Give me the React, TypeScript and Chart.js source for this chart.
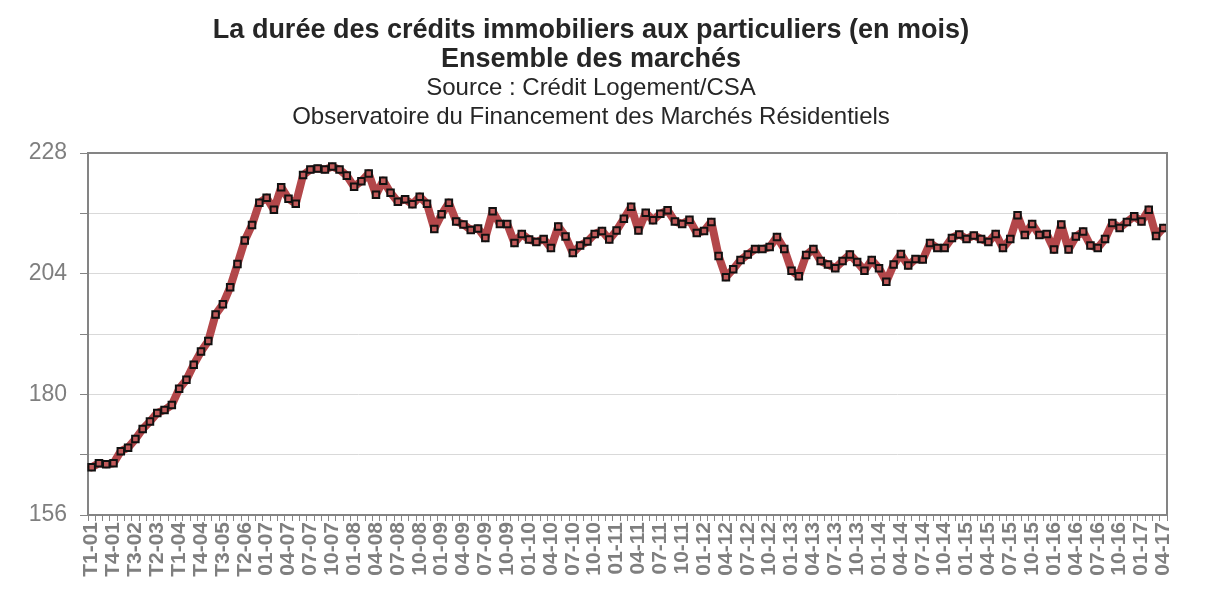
import React, { useEffect, useRef } from "react";
import { Chart, registerables } from "chart.js";

Chart.register(...registerables);

// Categories
const quarterYears = ["01", "02", "03", "04", "05", "06"];
const quarterNames = ["T1", "T2", "T3", "T4"];
const monthYears = ["07", "08", "09", "10", "11", "12", "13", "14", "15", "16", "17"];
const monthNames = ["01", "02", "03", "04", "05", "06", "07", "08", "09", "10", "11", "12"];
const lastMonthCount = 4; // data through 04-17

// Series values (durée moyenne en mois)
const quarterlyValues = [
  165.5, 166.3, 166.1, 166.3, 168.7, 169.4, 171.1, 173.1, 174.6, 176.3, 176.9, 177.9,
  181.1, 182.9, 185.9, 188.5, 190.6, 195.9, 197.9, 201.3, 205.9, 210.6, 213.7, 218.1,
];
const monthlyValues = [
  219.1, 216.7, 221.2, 218.9, 217.9, 223.6, 224.7, 224.9, 224.7, 225.3, 224.7, 223.5,
  221.3, 222.4, 223.9, 219.7, 222.5, 220.1, 218.3, 218.8, 217.8, 219.3, 217.9, 212.9,
  215.8, 218.1, 214.4, 213.8, 212.7, 213.0, 211.1, 216.4, 213.9, 213.9, 210.1, 211.9,
  210.8, 210.3, 210.9, 209.1, 213.4, 211.4, 208.1, 209.6, 210.4, 211.9, 212.5, 210.8,
  212.6, 214.9, 217.3, 212.6, 216.1, 214.6, 215.9, 216.6, 214.4, 213.9, 214.7, 212.1,
  212.5, 214.3, 207.5, 203.3, 204.9, 206.7, 207.8, 208.9, 208.9, 209.3, 211.3, 208.9,
  204.6, 203.5, 207.7, 208.9, 206.5, 205.8, 205.1, 206.5, 207.8, 206.3, 204.6, 206.7,
  205.1, 202.4, 205.8, 207.9, 205.6, 206.9, 206.8, 210.1, 209.1, 209.1, 211.1, 211.8,
  210.9, 211.6, 210.9, 210.3, 211.9, 209.1, 210.9, 215.6, 211.7, 213.9, 211.7, 211.9,
  208.8, 213.8, 208.8, 211.4, 212.4, 209.6, 209.1, 210.9, 214.1, 213.1, 214.3, 215.4,
  214.4, 216.7, 211.5, 213.1,
];

// Y ticks
const yMin = 156;
const yMax = 228;
const yStep = 12;
const yLabelled = [156, 180, 204, 228];

const titleLines = [
  "La durée des crédits immobiliers aux particuliers (en mois)",
  "Ensemble des marchés",
];
const subtitleLines = [
  "Source : Crédit Logement/CSA",
  "Observatoire du Financement des Marchés Résidentiels",
];

const labels: string[] = [];
quarterYears.forEach((y) => quarterNames.forEach((q) => labels.push(`${q}-${y}`)));
monthYears.forEach((y, yi) => {
  const n = yi === monthYears.length - 1 ? lastMonthCount : 12;
  for (let m = 0; m < n; m++) labels.push(`${monthNames[m]}-${y}`);
});
const values = [...quarterlyValues, ...monthlyValues];

const FONT = "'Liberation Sans', Arial, Helvetica, sans-serif";

const framePlugin = {
  id: "frame",
  afterDraw(chart: any) {
    const { ctx, chartArea } = chart;
    ctx.save();
    ctx.strokeStyle = "#848484";
    ctx.lineWidth = 2;
    ctx.beginPath();
    ctx.moveTo(chartArea.left, chartArea.top);
    ctx.lineTo(chartArea.right, chartArea.top);
    ctx.lineTo(chartArea.right, chartArea.bottom);
    ctx.stroke();
    ctx.restore();
  },
};

export default function App() {
  const ref = useRef<HTMLCanvasElement | null>(null);
  useEffect(() => {
    if (!ref.current) return;
    const chart = new Chart(ref.current, {
      type: "line",
      data: {
        labels,
        datasets: [
          {
            data: values,
            borderColor: "#b3474a",
            borderWidth: 8,
            borderJoinStyle: "round",
            borderCapStyle: "round",
            tension: 0,
            pointStyle: "rect",
            pointRadius: 4.6,
            pointBackgroundColor: "#c25a5a",
            pointBorderColor: "#111111",
            pointBorderWidth: 2,
          },
        ],
      },
      options: {
        animation: false,
        responsive: true,
        maintainAspectRatio: false,
        layout: { padding: { left: 15, right: 50, top: 0, bottom: 0 } },
        plugins: {
          legend: { display: false },
          tooltip: { enabled: false },
          title: {
            display: true,
            text: titleLines,
            color: "#262626",
            font: { family: FONT, size: 27, weight: "bold", lineHeight: 29 / 27 },
            padding: { top: 16, bottom: 0 },
          },
          subtitle: {
            display: true,
            text: subtitleLines,
            color: "#262626",
            font: { family: FONT, size: 24, weight: "normal", lineHeight: 29 / 24 },
            padding: { top: 0, bottom: 21 },
          },
        },
        scales: {
          x: {
            type: "category",
            offset: true,
            grid: {
              offset: true,
              drawOnChartArea: false,
              drawTicks: true,
              tickLength: 6,
              color: "#848484",
            },
            border: { color: "#848484", width: 2 },
            ticks: {
              autoSkip: false,
              maxRotation: 90,
              minRotation: 90,
              padding: 1,
              color: "#7f7f7f",
              font: { family: FONT, size: 21, weight: "bold" },
              callback: (_v: any, i: number) => (i % 3 === 0 ? labels[i] : ""),
            },
            afterFit: (scale: any) => {
              scale.height = 86;
            },
          },
          y: {
            min: yMin,
            max: yMax,
            grid: {
              color: "#d9d9d9",
              lineWidth: 1,
              tickColor: "#848484",
              tickLength: 8,
            },
            border: { color: "#848484", width: 2 },
            ticks: {
              stepSize: yStep,
              padding: 13,
              color: "#7f7f7f",
              font: { family: FONT, size: 23 },
              callback: (v: any) => (yLabelled.includes(Number(v)) ? String(v) : ""),
            },
            afterFit: (scale: any) => {
              scale.width = 73;
            },
          },
        },
      },
      plugins: [framePlugin],
    });
    return () => chart.destroy();
  }, []);
  return (
    <div style={{ position: "fixed", left: 0, top: 0, width: 1217, height: 601, background: "#fff" }}>
      <canvas ref={ref} />
    </div>
  );
}
